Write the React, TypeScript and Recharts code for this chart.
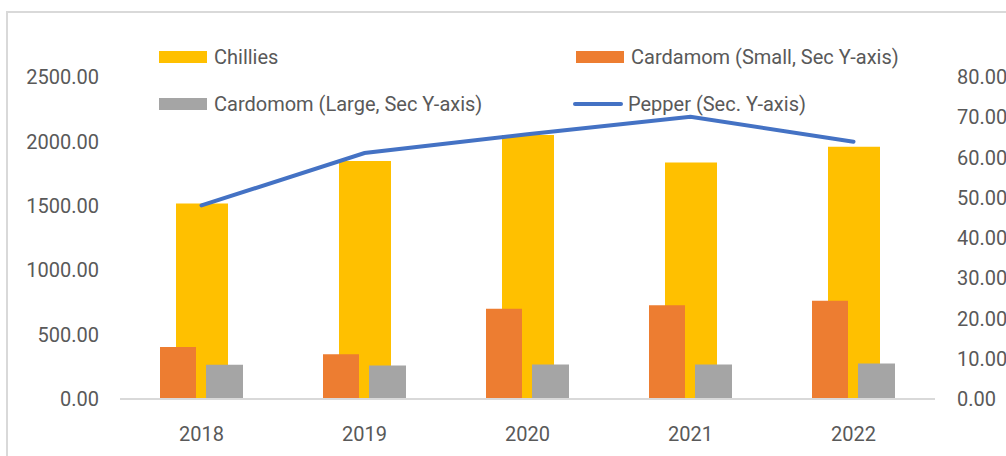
import {
    Bar,
    ComposedChart,
    Legend,
    Line,
    XAxis,
    YAxis,
} from "recharts"

const years = ["2018", "2019", "2020", "2021", "2022"]
const chillies = [1518, 1847, 2049, 1837, 1958]
const cardamomSmall = [12.9, 11.1, 22.4, 23.3, 24.4]
const cardamomLarge = [8.5, 8.3, 8.6, 8.6, 8.8]
const pepper = [48.1, 61.1, 65.8, 70.1, 63.9]

const seriesNames = [
    "Chillies",
    "Cardamom (Small, Sec Y-axis)",
    "Cardomom (Large, Sec Y-axis)",
    "Pepper (Sec. Y-axis)",
]

const leftTicks = [0, 500, 1000, 1500, 2000, 2500]
const rightTicks = [0, 10, 20, 30, 40, 50, 60, 70, 80]

const data = years.map((year, i) => ({
    year,
    chillies: chillies[i],
    small: cardamomSmall[i],
    large: cardamomLarge[i],
    pepper: pepper[i],
}))

const font = "Roboto, sans-serif"
const textColor = "#595959"

function LegendBox({ payload }: any) {
    const cols = [159, 576]
    const rows = [57, 104]
    // keep the Excel legend order, not the axis grouping order
    const items = [...(payload || [])].sort(
        (a: any, b: any) => seriesNames.indexOf(a.value) - seriesNames.indexOf(b.value)
    )
    return (
        <div style={{ position: "relative", width: 1006, height: 130 }}>
            {items.map((item: any, i: number) => {
                const x = cols[i % 2]
                const y = rows[Math.floor(i / 2)]
                const isLine = item.type === "line"
                return (
                    <div key={item.value} style={{ position: "absolute", left: x, top: y - 12, height: 24, display: "flex", alignItems: "center" }}>
                        {isLine ? (
                            <div style={{ width: 50, height: 4, borderRadius: 2, background: item.color, marginLeft: -3, marginRight: 5 }} />
                        ) : (
                            <div style={{ width: 48, height: 12, background: item.color, marginRight: 7 }} />
                        )}
                        <span style={{ fontFamily: font, fontSize: 20, color: textColor, whiteSpace: "nowrap" }}>{item.value}</span>
                    </div>
                )
            })}
        </div>
    )
}

export default function App() {
    return (
        <div style={{ position: "fixed", left: 0, top: 0, width: 1006, height: 456, overflow: "hidden", background: "#fff" }}>
            <div style={{ position: "absolute", left: 6, top: 11, width: 1100, height: 500, border: "2px solid #d9d9d9" }} />
            <ComposedChart
                width={1006}
                height={456}
                data={data}
                margin={{ top: 77, right: 0, left: 0, bottom: 0 }}
                barGap={10}
                style={{ position: "absolute", left: 0, top: 0 }}
            >
                <XAxis
                    xAxisId="a"
                    dataKey="year"
                    height={57}
                    stroke="#d9d9d9"
                    strokeWidth={2}
                    tickLine={false}
                    tickSize={0}
                    tickMargin={28}
                    tick={{ fill: textColor, fontSize: 20, fontFamily: font }}
                />
                <XAxis xAxisId="b" dataKey="year" hide />
                <YAxis
                    yAxisId="left"
                    width={120}
                    domain={[0, 2500]}
                    ticks={leftTicks}
                    axisLine={false}
                    tickLine={false}
                    tickSize={0}
                    tickMargin={21}
                    tickFormatter={(v) => Number(v).toFixed(2)}
                    tick={{ fill: textColor, fontSize: 20, fontFamily: font }}
                />
                <YAxis
                    yAxisId="right"
                    orientation="right"
                    width={71}
                    domain={[0, 80]}
                    ticks={rightTicks}
                    axisLine={false}
                    tickLine={false}
                    tickSize={0}
                    tickMargin={22}
                    tickFormatter={(v) => Number(v).toFixed(2)}
                    tick={{ fill: textColor, fontSize: 20, fontFamily: font, textAnchor: "start" }}
                />
                <Legend
                    layout="horizontal"
                    verticalAlign="middle"
                    align="center"
                    wrapperStyle={{ top: 0, left: 0 }}
                    content={<LegendBox />}
                />
                <Bar
                    xAxisId="a"
                    yAxisId="left"
                    dataKey="chillies"
                    name={seriesNames[0]}
                    fill="#FFC000"
                    barSize={52}
                    isAnimationActive={false}
                />
                <Bar
                    xAxisId="b"
                    yAxisId="right"
                    dataKey="small"
                    name={seriesNames[1]}
                    fill="#ED7D31"
                    barSize={36}
                    isAnimationActive={false}
                />
                <Bar
                    xAxisId="b"
                    yAxisId="right"
                    dataKey="large"
                    name={seriesNames[2]}
                    fill="#A5A5A5"
                    barSize={37}
                    isAnimationActive={false}
                />
                <Line
                    xAxisId="a"
                    yAxisId="right"
                    type="linear"
                    dataKey="pepper"
                    name={seriesNames[3]}
                    stroke="#4472C4"
                    strokeWidth={4}
                    strokeLinecap="round"
                    dot={false}
                    legendType="line"
                    isAnimationActive={false}
                />
            </ComposedChart>
        </div>
    )
}
